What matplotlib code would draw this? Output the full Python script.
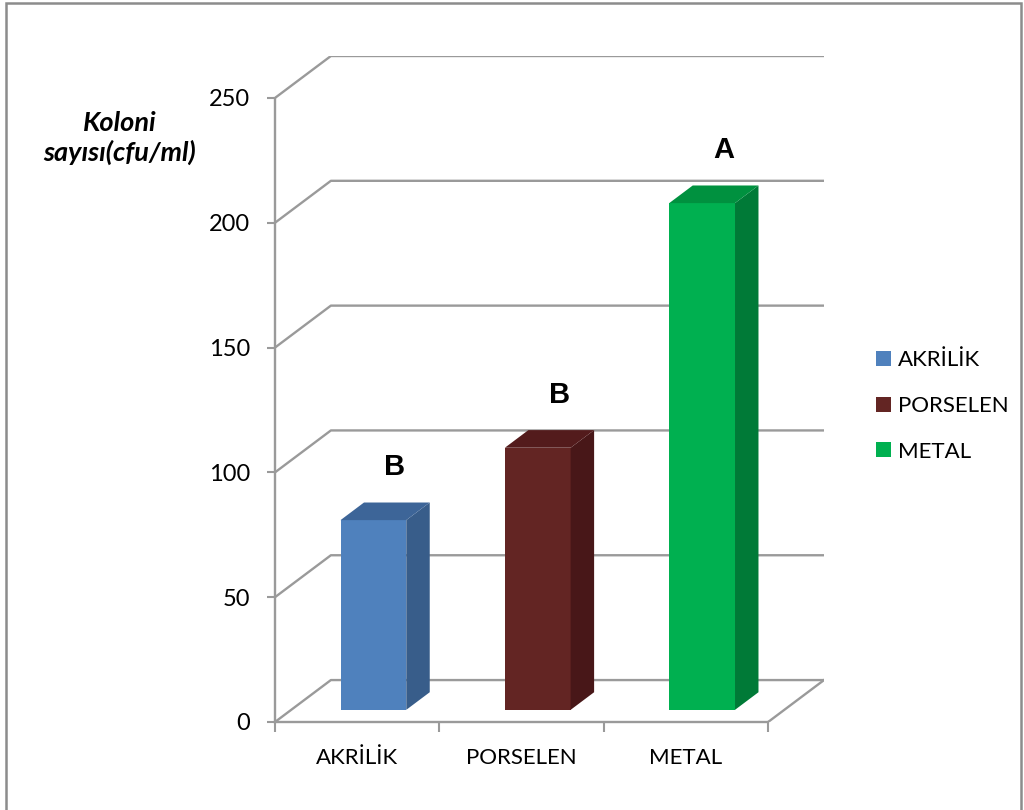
import matplotlib
matplotlib.use("Agg")
import matplotlib.pyplot as plt
from matplotlib.patches import Patch, Rectangle

categories = ["AKRİLİK", "PORSELEN", "METAL"]
values = [76, 105, 203]
letters = ["B", "B", "A"]
y_ticks = [0, 50, 100, 150, 200, 250]
y_title = "Koloni\nsayısı(cfu/ml)"

# front / side / top shades for each bar
face_colors = ["#4F81BD", "#632523", "#00B050"]
side_colors = ["#385D8A", "#481718", "#007A37"]
top_colors = ["#3D6598", "#531B1C", "#00913F"]

GRID = "#9A9A9A"
TEXT_FONT = "Lato"

# oblique depth of the plot box, in data units
DX, DY = 0.34, 16.8
# front and back of each bar as a fraction of the box depth
F0, F1 = 0.29, 0.71
HALF_W = 0.2

plt.rcParams["font.family"] = [TEXT_FONT, "DejaVu Sans"]

fig = plt.figure(figsize=(10.24, 8.10), dpi=100)
ax = fig.add_axes([275 / 1024, 88 / 810, 549 / 1024, 666 / 810])
ax.set_xlim(0, 3 + DX)
ax.set_ylim(0, y_ticks[-1] + DY)
ax.patch.set_alpha(0)

# walls: side-wall diagonal + back-wall line for every gridline
for v in y_ticks:
    ax.plot([0, DX, 3 + DX], [v, v + DY, v + DY], color=GRID, lw=1.7,
            solid_capstyle="butt", zorder=1)
# floor right edge
ax.plot([3, 3 + DX], [0, DY], color=GRID, lw=1.7, zorder=1)

# 3D bars
for i, (v, fc, sc, tc) in enumerate(zip(values, face_colors, side_colors, top_colors)):
    x0 = i + 0.5 - HALF_W + F0 * DX
    x1 = i + 0.5 + HALF_W + F0 * DX
    yb = F0 * DY
    yt = v + F0 * DY
    ddx, ddy = (F1 - F0) * DX, (F1 - F0) * DY
    ax.fill([x0, x1, x1, x0], [yb, yb, yt, yt], color=fc, lw=0, zorder=3)
    ax.fill([x1, x1 + ddx, x1 + ddx, x1], [yb, yb + ddy, yt + ddy, yt],
            color=sc, lw=0, zorder=3)
    ax.fill([x0, x1, x1 + ddx, x0 + ddx], [yt, yt, yt + ddy, yt + ddy],
            color=tc, lw=0, zorder=3)
    ax.text(i + 0.73, v + 26, letters[i], ha="center", va="center",
            fontsize=21, fontweight="bold", family="Liberation Sans", zorder=4)

# axes lines and ticks
for side in ["top", "right"]:
    ax.spines[side].set_visible(False)
ax.spines["left"].set_bounds(0, y_ticks[-1])
ax.spines["bottom"].set_bounds(0, 3)
for side in ["left", "bottom"]:
    ax.spines[side].set_color(GRID)
    ax.spines[side].set_linewidth(1.7)
    ax.spines[side].set_zorder(2)

ax.set_yticks(y_ticks)
ax.set_yticklabels([str(t) for t in y_ticks])
ax.tick_params(axis="y", length=6, width=1.5, color=GRID, pad=12,
               labelsize=17, labelcolor="black")

ax.set_xticks([0, 1, 2, 3])
ax.set_xticklabels([])
ax.tick_params(axis="x", which="major", length=7, width=1.5, color=GRID)
ax.set_xticks([0.5, 1.5, 2.5], minor=True)
ax.set_xticklabels(categories, minor=True)
ax.tick_params(axis="x", which="minor", length=0, pad=19, labelsize=16)

fig.text(120 / 1024, 1 - 138 / 810, y_title, ha="center", va="center",
         fontsize=19.5, fontweight="bold", style="italic", linespacing=1.25)

handles = [Patch(facecolor=c, edgecolor="none") for c in face_colors]
fig.legend(handles, categories, loc="center left",
           bbox_to_anchor=(856 / 1024, 1 - 406 / 810), frameon=False,
           fontsize=16, handlelength=0.68, handleheight=0.68,
           handletextpad=0.32, labelspacing=1.15)

# chart-area border
fig.add_artist(Rectangle((6 / 1024, -0.02), 1015 / 1024, 1.02 - 3 / 810,
                         transform=fig.transFigure, fill=False,
                         edgecolor="#8C8C8C", lw=1.8))

fig.savefig("out.png", dpi=100)
